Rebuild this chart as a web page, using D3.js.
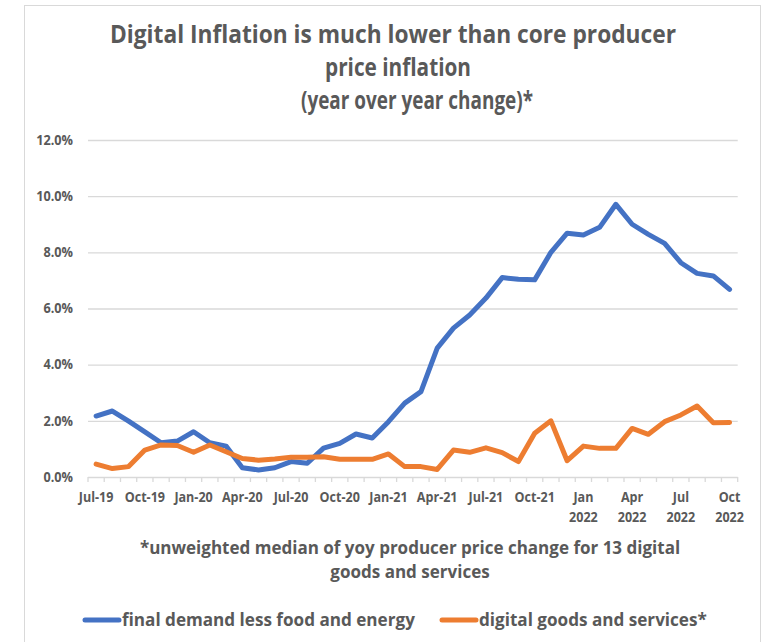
<!DOCTYPE html>
<html>
<head>
	<meta charset="utf-8">
	<script src="https://cdn.jsdelivr.net/npm/d3@7"></script>
	<style>
		body { margin: 0; background: #fff; }
		text { font-family: "Open Sans", sans-serif; font-weight: bold; fill: #595959; }
	</style>
</head>
<body>
	<div id="chart"></div>
	<script type="text/javascript">
		"use strict";

		// monthly categories, Jul-19 .. Oct-22
		var months = ["Jul-19","Aug-19","Sep-19","Oct-19","Nov-19","Dec-19",
			"Jan-20","Feb-20","Mar-20","Apr-20","May-20","Jun-20","Jul-20","Aug-20","Sep-20","Oct-20","Nov-20","Dec-20",
			"Jan-21","Feb-21","Mar-21","Apr-21","May-21","Jun-21","Jul-21","Aug-21","Sep-21","Oct-21","Nov-21","Dec-21",
			"Jan-22","Feb-22","Mar-22","Apr-22","May-22","Jun-22","Jul-22","Aug-22","Sep-22","Oct-22"];

		// final demand less food and energy, yoy %
		var coreValues = [2.17,2.35,1.99,1.61,1.22,1.28,1.61,1.22,1.10,0.33,0.25,0.33,0.55,0.49,1.03,1.20,1.53,1.39,
			1.97,2.63,3.04,4.59,5.30,5.77,6.37,7.10,7.04,7.02,8.00,8.68,8.62,8.89,9.71,9.00,8.64,8.32,7.63,7.25,7.16,6.68];

		// digital goods and services, yoy %
		var digitalValues = [0.46,0.30,0.37,0.96,1.14,1.12,0.88,1.14,0.90,0.66,0.60,0.64,0.70,0.70,0.72,0.63,0.63,0.63,
			0.82,0.37,0.37,0.27,0.96,0.88,1.04,0.87,0.55,1.56,2.00,0.58,1.10,1.02,1.02,1.73,1.52,1.97,2.21,2.53,1.93,1.94];

		// labels shown on every 3rd month
		var tickLabels = ["Jul-19","Oct-19","Jan-20","Apr-20","Jul-20","Oct-20","Jan-21","Apr-21","Jul-21","Oct-21",
			"Jan|2022","Apr|2022","Jul|2022","Oct|2022"];

		var yTicks = [0, 2, 4, 6, 8, 10, 12];

		var seriesNames = ["final demand less food and energy", "digital goods and services*"];
		var seriesColors = ["#4472C4", "#ED7D31"];

		var titleLines = ["Digital Inflation is much lower than core producer", "price inflation", "(year over year change)*"];
		var noteLines = ["*unweighted median of yoy producer price change for 13 digital", "goods and services"];

		var width = 767, height = 642;
		var plotL = 88, plotR = 737.7, plotT = 140, plotB = 477;

		var svg = d3.select("#chart").append("svg")
			.attr("width", width)
			.attr("height", height);

		// chart area border
		svg.append("rect")
			.attr("x", 24.5).attr("y", 5.5)
			.attr("width", 736).attr("height", 660)
			.attr("fill", "#fff")
			.attr("stroke", "#d9d9d9");

		var x = d3.scaleBand().domain(months).range([plotL, plotR]);
		var y = d3.scaleLinear().domain([0, 12]).range([plotB, plotT]);
		var cx = function(m) { return x(m) + x.bandwidth() / 2; };

		// Calibri is narrower than the fonts we have, so squeeze the glyphs
		function squeeze(sel, k) {
			sel.each(function() {
				var w = this.getComputedTextLength();
				d3.select(this).attr("textLength", w * k).attr("lengthAdjust", "spacingAndGlyphs");
			});
		}
		function fitTo(sel, w) {
			sel.attr("textLength", w).attr("lengthAdjust", "spacingAndGlyphs");
		}

		// title (the source lines are not quite centred on each other)
		var titleX = [393, 398, 417], titleW = [566, 146, 232];
		titleLines.forEach(function(t, i) {
			svg.append("text")
				.attr("x", titleX[i])
				.attr("y", 43 + i * 33)
				.attr("text-anchor", "middle")
				.style("font-size", "25px")
				.text(t)
				.call(fitTo, titleW[i]);
		});

		// y axis + gridlines
		var gy = svg.append("g")
			.attr("transform", "translate(" + plotL + ",0)")
			.call(d3.axisLeft(y)
				.tickValues(yTicks)
				.tickSize(-(plotR - plotL))
				.tickPadding(15)
				.tickFormat(function(d) { return d3.format(".1%")(d / 100); }));
		gy.select(".domain").remove();
		gy.selectAll(".tick line").attr("stroke", "#d9d9d9").attr("stroke-width", 1.3);
		gy.selectAll(".tick text")
			.style("font-size", "13.5px")
			.style("font-family", "'Open Sans', sans-serif")
			.attr("fill", "#595959")
			.call(squeeze, 0.94);

		// x axis tick marks on category boundaries
		var bounds = months.map(function(m) { return x(m); }).concat([plotR]);
		svg.append("g").selectAll("line")
			.data(bounds)
			.enter().append("line")
			.attr("x1", function(d) { return d; })
			.attr("x2", function(d) { return d; })
			.attr("y1", plotB)
			.attr("y2", plotB + 5)
			.attr("stroke", "#d9d9d9")
			.attr("stroke-width", 1.3);

		var xl = svg.append("g");
		tickLabels.forEach(function(d, i) {
			d.split("|").forEach(function(p, j) {
				xl.append("text")
					.attr("x", cx(months[i * 3]))
					.attr("y", 502 + j * 20)
					.attr("text-anchor", "middle")
					.style("font-size", "13.5px")
					.text(p)
					.call(squeeze, 0.93);
			});
		});

		// lines
		var line = d3.line()
			.x(function(d, i) { return cx(months[i]); })
			.y(function(d) { return y(d); });

		[coreValues, digitalValues].forEach(function(vals, k) {
			svg.append("path")
				.datum(vals)
				.attr("d", line)
				.attr("fill", "none")
				.attr("stroke", seriesColors[k])
				.attr("stroke-width", 5)
				.attr("stroke-linejoin", "round")
				.attr("stroke-linecap", "round");
		});

		// footnote
		noteLines.forEach(function(t, i) {
			svg.append("text")
				.attr("x", 410)
				.attr("y", 554 + i * 24)
				.attr("text-anchor", "middle")
				.style("font-size", "18px")
				.text(t)
				.call(squeeze, 0.945);
		});

		// legend
		var legX = [83, 440];
		seriesNames.forEach(function(n, k) {
			svg.append("line")
				.attr("x1", legX[k] + 2).attr("x2", legX[k] + 36)
				.attr("y1", 620).attr("y2", 620)
				.attr("stroke", seriesColors[k])
				.attr("stroke-width", 5)
				.attr("stroke-linecap", "round");
			svg.append("text")
				.attr("x", legX[k] + 39)
				.attr("y", 626)
				.style("font-size", "18px")
				.text(n)
				.call(squeeze, 0.95);
		});
	</script>
</body>
</html>
